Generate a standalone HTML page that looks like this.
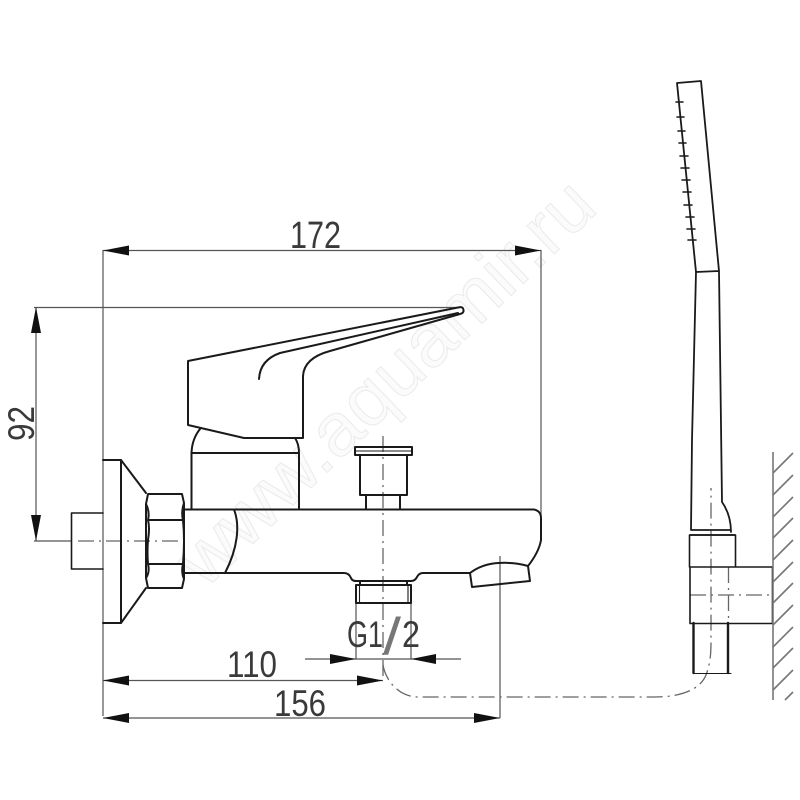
<!DOCTYPE html>
<html><head><meta charset="utf-8"><style>
html,body{margin:0;padding:0;background:#fff;width:800px;height:800px;overflow:hidden}
svg{display:block;filter:blur(0.35px)}
text{font-family:"Liberation Sans",sans-serif;fill:#3a3a3a}
.k{fill:none;stroke:#1a1a1a;stroke-width:2;stroke-linejoin:round;stroke-linecap:round}
.t{fill:none;stroke:#555;stroke-width:1.2}
.c{fill:none;stroke:#666;stroke-width:1.3;stroke-dasharray:16 5 2 5}
.a{fill:#111;stroke:none}
.w{fill:none;stroke:#777;stroke-width:1.6}
</style></head><body>
<svg width="800" height="800" viewBox="0 0 800 800" xmlns="http://www.w3.org/2000/svg">
<rect width="800" height="800" fill="#fff"/>
<text transform="translate(205,590) rotate(-43.9)" font-size="74" textLength="548" lengthAdjust="spacingAndGlyphs" style="fill:#fbfbfb;stroke:#ececec;stroke-width:1.1">www.aquamir.ru</text>

<!-- extension and dimension lines -->
<path class="t" d="M103 250V716M541 250V515M34 307.5H460M34 541H72M36 307V541M103 250.5H541M103 680.5H383M103 718H500M305 659H461M356 603V659M411 603V659M500 556V718"/>
<path class="a" d="M36 307l-5 26h10zM36 541l-5-26h10zM103 250.5l26-5v10zM541 250.5l-26-5v10zM103 680.5l26-5v10zM383 680.5l-26-5v10zM103 718l26-5v10zM500 718l-26-5v10zM356 659l-26-5v10zM411 659l25-5v10z"/>

<!-- labels -->
<text x="290" y="248" font-size="38" textLength="51" lengthAdjust="spacingAndGlyphs">172</text>
<text x="227" y="677" font-size="37" textLength="50" lengthAdjust="spacingAndGlyphs">110</text>
<text x="274" y="716" font-size="37" textLength="52" lengthAdjust="spacingAndGlyphs">156</text>
<text x="347" y="647" font-size="37" textLength="36" lengthAdjust="spacingAndGlyphs">G1</text>
<text x="383" y="654" font-size="52" textLength="18" lengthAdjust="spacingAndGlyphs" style="fill:#777">/</text>
<text x="402" y="647" font-size="37" textLength="18" lengthAdjust="spacingAndGlyphs">2</text>
<text transform="translate(34,441) rotate(-90)" font-size="37" textLength="35" lengthAdjust="spacingAndGlyphs">92</text>

<!-- centre lines -->
<path class="c" d="M78 541H184"/>
<path class="c" d="M383 436V680"/>
<path class="c" d="M383 665C386 682 400 697 418 697H655C680 697 700 690 706 675C711 662 711 650 711 640V488"/>
<path class="c" d="M728.5 567V623M690 595H772"/>

<!-- flange, nut, stub -->
<path class="k" style="stroke-width:1.6" d="M103 513H71.5V569H103"/>
<path class="k" d="M103 460H121V623H103M121 460L146 493M121 623L146 588"/>
<path class="k" d="M148 494H182L184 503V579L182 588H148L146 578V504ZM148 520H183M148 564H183M146 504Q150 512 148 520Q150 528 148 540Q147 552 148 564Q150 572 146 578M184 503Q181 512 183 520Q185 540 183 564Q181 572 184 579"/>

<!-- spout body -->
<path class="k" d="M184 509.5H534Q541 511 541 518V540Q539 552 528 566M184 573H344Q349 573 351 578Q352 581 356 581H411Q415 581 417 577Q419 573 423 573H470"/>
<path class="k" d="M234 509.5C240 525 238 548 225 573"/>
<path class="k" d="M470 573Q482 564 498 563Q515 562 528 566L530 581L472 587Z"/>
<path class="k" d="M356 585H411V603H356ZM360 581V585M407 581V585"/>
<path class="k" style="stroke-width:1.1" d="M359.5 585V603M408 585V603"/>

<!-- button -->
<path class="k" d="M355 447H412V455H355ZM360 455V495H407V455M366 495V509M400 495V509"/>
<path class="k" style="stroke-width:1" d="M355 451H412"/>

<!-- neck -->
<path class="k" d="M191.5 509V453H299V509M191.5 453Q192 439 200 429M299 453Q299 444 295 438"/>

<!-- handle -->
<path class="k" d="M188 361L458 307.5Q463 306 463.5 310Q464 313 460 314L330 351Q304 358 303 376V438H244L188 425Z"/>
<path class="k" d="M259 379Q260 360 280 353L458 313"/>

<!-- hand shower -->
<path class="k" style="stroke-width:1.8" d="M677 83L701 81L719 271L696 272ZM696 272L692 440L691 530M719 271L722 502Q731 515 731 532M691 530H731M690 535H735"/>
<path class="k" style="stroke-width:1.6" d="M676 102H683M677 117H684M678 131H685M679 143H686M680 156H688M681 168H689M682 180H690M683 192H691M684 205H692M686 217H694M687 229H695M688 240H696"/>
<path class="k" style="stroke-width:1.6" d="M689.5 535H735.5V567H689.5ZM690 567H772.5V623.5H690Z"/>
<path class="k" style="stroke-width:2.4" d="M693.5 623V673M728 623V673"/>
<path class="k" style="stroke-width:1.1" d="M693.5 673.5H731"/>

<!-- wall -->
<path class="w" d="M773 452V700M773 473L793 453M773 495L793 475M773 517L793 497M773 538L793 518M773 560L793 540M773 582L793 562M773 603L793 583M773 625L793 605M773 647L793 627M773 668L793 648M773 690L793 670M785 700L793 692"/>
</svg>
</body></html>
